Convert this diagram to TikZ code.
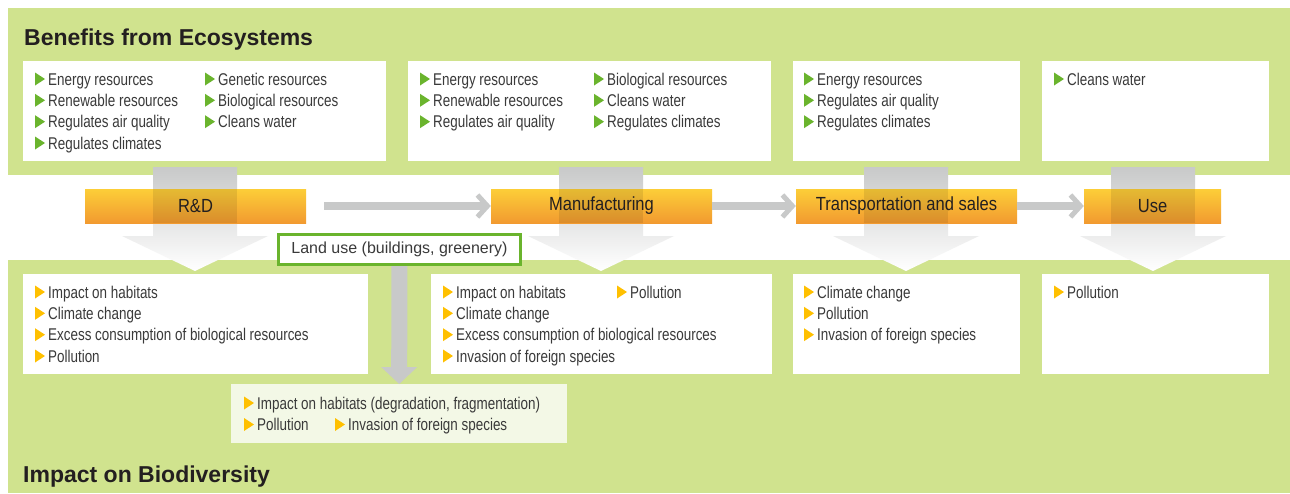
\documentclass[tikz,border=0pt]{standalone}
\usepackage{fontspec}
\setmainfont{Liberation Sans}
\newfontfamily\itemfont{Liberation Sans}[FakeStretch=0.79]
\newfontfamily\barfont{Liberation Sans}[FakeStretch=0.87]
\usetikzlibrary{arrows.meta,calc}
\definecolor{band}{HTML}{D0E38E}
\definecolor{lightbox}{HTML}{F3F8E6}
\definecolor{txt}{HTML}{3A3A3A}
\definecolor{ttl}{HTML}{231F20}
\definecolor{bulg}{HTML}{6AB42D}
\definecolor{buly}{HTML}{FFC000}
\definecolor{colgray}{HTML}{C8C9C9}
\definecolor{orgtop}{HTML}{FCCE38}
\definecolor{orgbot}{HTML}{F29A30}
\definecolor{lugreen}{HTML}{6AB42D}
\newcounter{itm}
\newcommand\bitem[4]{\stepcounter{itm}\edef\itmname{item\arabic{itm}}%
  \fill[#3] (#1-13,#2-12.5) -- (#1-13,#2+0.5) -- (#1-3,#2-6) -- cycle;
  \node[itemtext] (\itmname) at (#1,#2) {#4};}
\newcommand\vcol[1]{%
  \shade[top color=colgray, middle color=colgray!80, bottom color=white]
    (#1-42,167) -- (#1+42,167) -- (#1+42,236) -- (#1+73,236) -- (#1,271)
    -- (#1-73,236) -- (#1-42,236) -- cycle;}
\tikzset{
  itemtext/.style={anchor=base west, inner sep=0pt, text=txt,
    font=\itemfont\fontsize{17}{20}\selectfont},
  wbox/.style={anchor=north west, fill=white, draw=none, inner sep=0pt, minimum height=100pt},
  bar/.style={inner sep=0pt, minimum height=34pt, top color=orgtop, bottom color=orgbot,
    text=ttl, font=\barfont\fontsize{19}{22}\selectfont},
  conn/.style={draw=colgray, line width=8pt,
    -{Straight Barb[length=10pt,width=22pt,line width=5pt]}},
  title/.style={anchor=base west, inner sep=0pt, text=ttl,
    font=\bfseries\fontsize{23}{26}\selectfont},
}
\begin{document}
\begin{tikzpicture}[x=1pt,y=-1pt]
\useasboundingbox (0,0) rectangle (1290,493);
\fill[white] (0,0) rectangle (1290,493);
% bands
\fill[band] (8,8) rectangle (1290,175);
\fill[band] (8,260) rectangle (1290,493);
% top boxes
\node[wbox, minimum width=363pt] (tb1) at (23,61) {};
\node[wbox, minimum width=363pt] (tb2) at (408,61) {};
\node[wbox, minimum width=227pt] (tb3) at (793,61) {};
\node[wbox, minimum width=227pt] (tb4) at (1042,61) {};
% bottom boxes
\node[wbox, minimum width=345pt] (bb1) at (23,274) {};
\node[wbox, minimum width=341pt] (bb2) at (431,274) {};
\node[wbox, minimum width=227pt] (bb3) at (793,274) {};
\node[wbox, minimum width=227pt] (bb4) at (1042,274) {};
\node[wbox, fill=lightbox, minimum width=336pt, minimum height=59pt] (lb) at (231,384) {};
% titles
\node[title] (t1) at (24,45) {Benefits from Ecosystems};
\node[title] (t2) at (23,482) {Impact on Biodiversity};
% vertical gray arrows
\vcol{195}
\vcol{601}
\vcol{906}
\vcol{1153}
% bars
\node[bar, minimum width=221pt] (rd) at (195.5,206) {};
\node[bar, minimum width=221pt] (mf) at (601.5,206) {};
\node[bar, minimum width=221pt] (ts) at (906.5,206) {};
\node[bar, minimum width=137pt] (us) at (1152.5,206) {};
\foreach \c in {195,601,906,1153}{
  \fill[black, opacity=0.09] (\c-42,189) rectangle (\c+42,223);}
\node[text=ttl, font=\barfont\fontsize{19}{22}\selectfont] (rdl) at (rd) {R\&D};
\node[text=ttl, font=\barfont\fontsize{19}{22}\selectfont] (mfl) at (mf) {Manufacturing};
\node[text=ttl, font=\barfont\fontsize{19}{22}\selectfont] (tsl) at (ts) {Transportation and sales};
\node[text=ttl, font=\barfont\fontsize{19}{22}\selectfont] (usl) at (us) {Use};
% horizontal arrows
\draw[conn] ([xshift=18pt]rd.east) -- (mf.west);
\draw[conn] (mf.east) -- (ts.west);
\draw[conn] (ts.east) -- (us.west);
% land use
\coordinate (luc) at (399.5,249.5);
\fill[colgray] ([xshift=-8pt]luc) -- ([xshift=8pt]luc)
  -- ([xshift=8pt,yshift=17pt]lb.north) -- ([xshift=18pt,yshift=17pt]lb.north)
  -- (lb.north) -- ([xshift=-18pt,yshift=17pt]lb.north)
  -- ([xshift=-8pt,yshift=17pt]lb.north) -- cycle;
\node[draw=lugreen, line width=3pt, fill=white, minimum width=242pt, minimum height=30pt,
  inner sep=0pt, text=txt, font=\fontsize{16}{19}\selectfont] (lu) at (luc)
  {Land use (buildings, greenery)};
% top items
\bitem{48}{85}{bulg}{Energy resources}
\bitem{48}{106.3}{bulg}{Renewable resources}
\bitem{48}{127.7}{bulg}{Regulates air quality}
\bitem{48}{149}{bulg}{Regulates climates}
\bitem{218}{85}{bulg}{Genetic resources}
\bitem{218}{106.3}{bulg}{Biological resources}
\bitem{218}{127.7}{bulg}{Cleans water}
\bitem{433}{85}{bulg}{Energy resources}
\bitem{433}{106.3}{bulg}{Renewable resources}
\bitem{433}{127.7}{bulg}{Regulates air quality}
\bitem{607}{85}{bulg}{Biological resources}
\bitem{607}{106.3}{bulg}{Cleans water}
\bitem{607}{127.7}{bulg}{Regulates climates}
\bitem{817}{85}{bulg}{Energy resources}
\bitem{817}{106.3}{bulg}{Regulates air quality}
\bitem{817}{127.7}{bulg}{Regulates climates}
\bitem{1067}{85}{bulg}{Cleans water}
% bottom items
\bitem{48}{298}{buly}{Impact on habitats}
\bitem{48}{319.3}{buly}{Climate change}
\bitem{48}{340.7}{buly}{Excess consumption of biological resources}
\bitem{48}{362}{buly}{Pollution}
\bitem{456}{298}{buly}{Impact on habitats}
\bitem{630}{298}{buly}{Pollution}
\bitem{456}{319.3}{buly}{Climate change}
\bitem{456}{340.7}{buly}{Excess consumption of biological resources}
\bitem{456}{362}{buly}{Invasion of foreign species}
\bitem{817}{298}{buly}{Climate change}
\bitem{817}{319.3}{buly}{Pollution}
\bitem{817}{340.7}{buly}{Invasion of foreign species}
\bitem{1067}{298}{buly}{Pollution}
\bitem{257}{409}{buly}{Impact on habitats (degradation, fragmentation)}
\bitem{257}{430.5}{buly}{Pollution}
\bitem{348}{430.5}{buly}{Invasion of foreign species}
\end{tikzpicture}
\end{document}
